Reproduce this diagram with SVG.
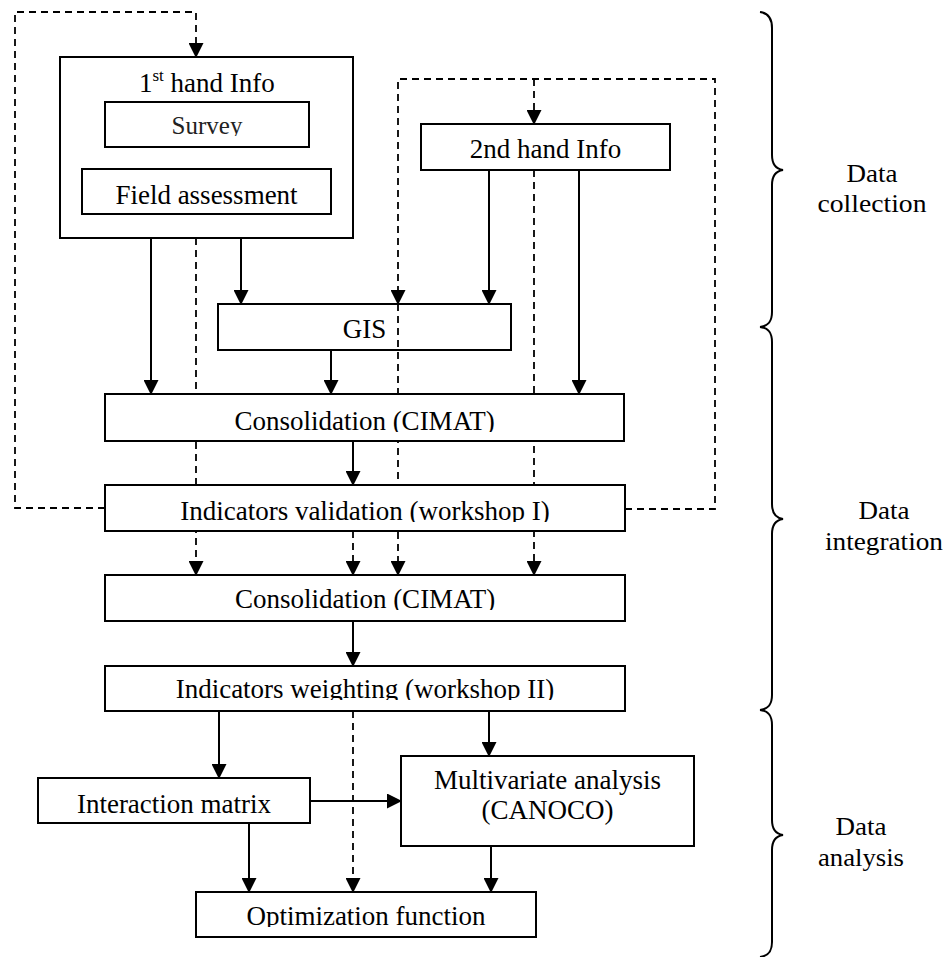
<svg xmlns="http://www.w3.org/2000/svg" width="948" height="957" viewBox="0 0 948 957">
<style>
  .box { fill: #fff; stroke: #000; stroke-width: 2; }
  .open { fill: none; stroke: #000; stroke-width: 2; }
  .t { font-family: "Liberation Serif", "Times New Roman", serif; font-size: 27px; fill: #000; text-anchor: middle; }
  .lbl { font-family: "Liberation Serif", "Times New Roman", serif; font-size: 25px; fill: #000; text-anchor: middle; }
  .solid { fill: none; stroke: #000; stroke-width: 2; }
  .dash { fill: none; stroke: #000; stroke-width: 1.8; stroke-dasharray: 7 5; }
  .brace { fill: none; stroke: #000; stroke-width: 2; }
</style>
<defs>
  <marker id="arr" markerUnits="userSpaceOnUse" markerWidth="15" markerHeight="15" refX="14" refY="7.5" orient="auto">
    <path d="M0,0 L15,7.5 L0,15 z" fill="#000"/>
  </marker>
  <clipPath id="cSurvey" clipPathUnits="userSpaceOnUse"><rect x="105" y="102" width="204" height="34"/></clipPath>
  <clipPath id="cCons1" clipPathUnits="userSpaceOnUse"><rect x="105" y="394" width="519" height="38"/></clipPath>
  <clipPath id="cValid" clipPathUnits="userSpaceOnUse"><rect x="105" y="485" width="520" height="37"/></clipPath>
  <clipPath id="cCons2" clipPathUnits="userSpaceOnUse"><rect x="105" y="575" width="520" height="35"/></clipPath>
  <clipPath id="cWeight" clipPathUnits="userSpaceOnUse"><rect x="105" y="666" width="520" height="34"/></clipPath>
  <clipPath id="cOptim" clipPathUnits="userSpaceOnUse"><rect x="196" y="892" width="340" height="35"/></clipPath>
</defs>

<g id="connectors">
  <path class="dash" d="M105,508 L15,508 L15,12 L196,12 L196,57" marker-end="url(#arr)"/>
  <path class="dash" d="M625,509 L715,509 L715,79 L398,79 L398,304" marker-end="url(#arr)"/>
  <path class="dash" d="M534,79 L534,124" marker-end="url(#arr)"/>
  <path class="dash" d="M196,238 L196,575" marker-end="url(#arr)"/>
  <path class="dash" d="M398,304 L398,575" marker-end="url(#arr)"/>
  <path class="dash" d="M534,170 L534,575" marker-end="url(#arr)"/>
  <path class="dash" d="M353,531 L353,575" marker-end="url(#arr)"/>
  <path class="dash" d="M353,711 L353,892" marker-end="url(#arr)"/>
  <path class="solid" d="M151,238 L151,394" marker-end="url(#arr)"/>
  <path class="solid" d="M241,238 L241,304" marker-end="url(#arr)"/>
  <path class="solid" d="M489,170 L489,304" marker-end="url(#arr)"/>
  <path class="solid" d="M579,170 L579,394" marker-end="url(#arr)"/>
  <path class="solid" d="M331,350 L331,394" marker-end="url(#arr)"/>
  <path class="solid" d="M353,441 L353,485" marker-end="url(#arr)"/>
  <path class="solid" d="M353,621 L353,666" marker-end="url(#arr)"/>
  <path class="solid" d="M219,711 L219,778" marker-end="url(#arr)"/>
  <path class="solid" d="M489,711 L489,756" marker-end="url(#arr)"/>
  <path class="solid" d="M310,801 L401,801" marker-end="url(#arr)"/>
  <path class="solid" d="M249,823 L249,892" marker-end="url(#arr)"/>
  <path class="solid" d="M491,846 L491,892" marker-end="url(#arr)"/>
</g>

<g id="first-hand">
  <rect class="box" x="60" y="57" width="293" height="181"/>
  <text class="t" x="139" y="92" style="text-anchor:start">1<tspan font-size="17" dy="-11">st</tspan><tspan dy="11"> hand Info</tspan></text>
</g>
<g id="survey">
  <rect class="box" x="105" y="102" width="204" height="45"/>
  <text class="t" x="207" y="134" style="font-size:25px;fill:#222" clip-path="url(#cSurvey)">Survey</text>
</g>
<g id="field">
  <rect class="box" x="82" y="169" width="249" height="45"/>
  <text class="t" x="206.5" y="204">Field assessment</text>
</g>
<g id="second-hand">
  <rect class="box" x="421" y="124" width="249" height="46"/>
  <text class="t" x="545.5" y="158">2nd hand Info</text>
</g>
<g id="gis">
  <rect class="open" x="218" y="304" width="293" height="46"/>
  <text class="t" x="364.5" y="338">GIS</text>
</g>
<g id="consolidation1">
  <rect class="box" x="105" y="394" width="519" height="47"/>
  <text class="t" x="364.5" y="430" clip-path="url(#cCons1)">Consolidation (CIMAT)</text>
</g>
<g id="validation">
  <rect class="box" x="105" y="485" width="520" height="46"/>
  <text class="t" x="365" y="520" clip-path="url(#cValid)">Indicators validation (workshop I)</text>
</g>
<g id="consolidation2">
  <rect class="box" x="105" y="575" width="520" height="46"/>
  <text class="t" x="365" y="608" clip-path="url(#cCons2)">Consolidation (CIMAT)</text>
</g>
<g id="weighting">
  <rect class="box" x="105" y="666" width="520" height="45"/>
  <text class="t" x="365" y="698" clip-path="url(#cWeight)">Indicators weighting (workshop II)</text>
</g>
<g id="interaction">
  <rect class="box" x="38" y="778" width="272" height="45"/>
  <text class="t" x="174" y="813">Interaction matrix</text>
</g>
<g id="multivariate">
  <rect class="box" x="401" y="756" width="293" height="90"/>
  <text class="t" x="547.5" y="789">Multivariate analysis</text>
  <text class="t" x="547.5" y="819">(CANOCO)</text>
</g>
<g id="optimization">
  <rect class="box" x="196" y="892" width="340" height="45"/>
  <text class="t" x="366" y="925" clip-path="url(#cOptim)">Optimization function</text>
</g>

<g id="brace-collection">
  <path class="brace" d="M760,12 C768,13 772,18 772,28 L772,155 C772,165 776,169 783,170 C776,171 772,175 772,185 L772,312 C772,322 768,326 760,327"/>
  <text class="lbl" x="872" y="182" textLength="51" lengthAdjust="spacingAndGlyphs">Data</text>
  <text class="lbl" x="872" y="212" textLength="109" lengthAdjust="spacingAndGlyphs">collection</text>
</g>
<g id="brace-integration">
  <path class="brace" d="M760,327 C768,328 772,332 772,342 L772,504 C772,514 776,518 783,519 C776,520 772,524 772,534 L772,695 C772,705 768,709 760,710"/>
  <text class="lbl" x="884" y="519" textLength="51" lengthAdjust="spacingAndGlyphs">Data</text>
  <text class="lbl" x="884" y="550" textLength="118" lengthAdjust="spacingAndGlyphs">integration</text>
</g>
<g id="brace-analysis">
  <path class="brace" d="M760,710 C768,711 772,715 772,725 L772,820 C772,830 776,834 783,835 C776,836 772,840 772,850 L772,942 C772,952 768,956 760,957"/>
  <text class="lbl" x="861" y="835" textLength="51" lengthAdjust="spacingAndGlyphs">Data</text>
  <text class="lbl" x="861" y="866" textLength="86" lengthAdjust="spacingAndGlyphs">analysis</text>
</g>
</svg>
